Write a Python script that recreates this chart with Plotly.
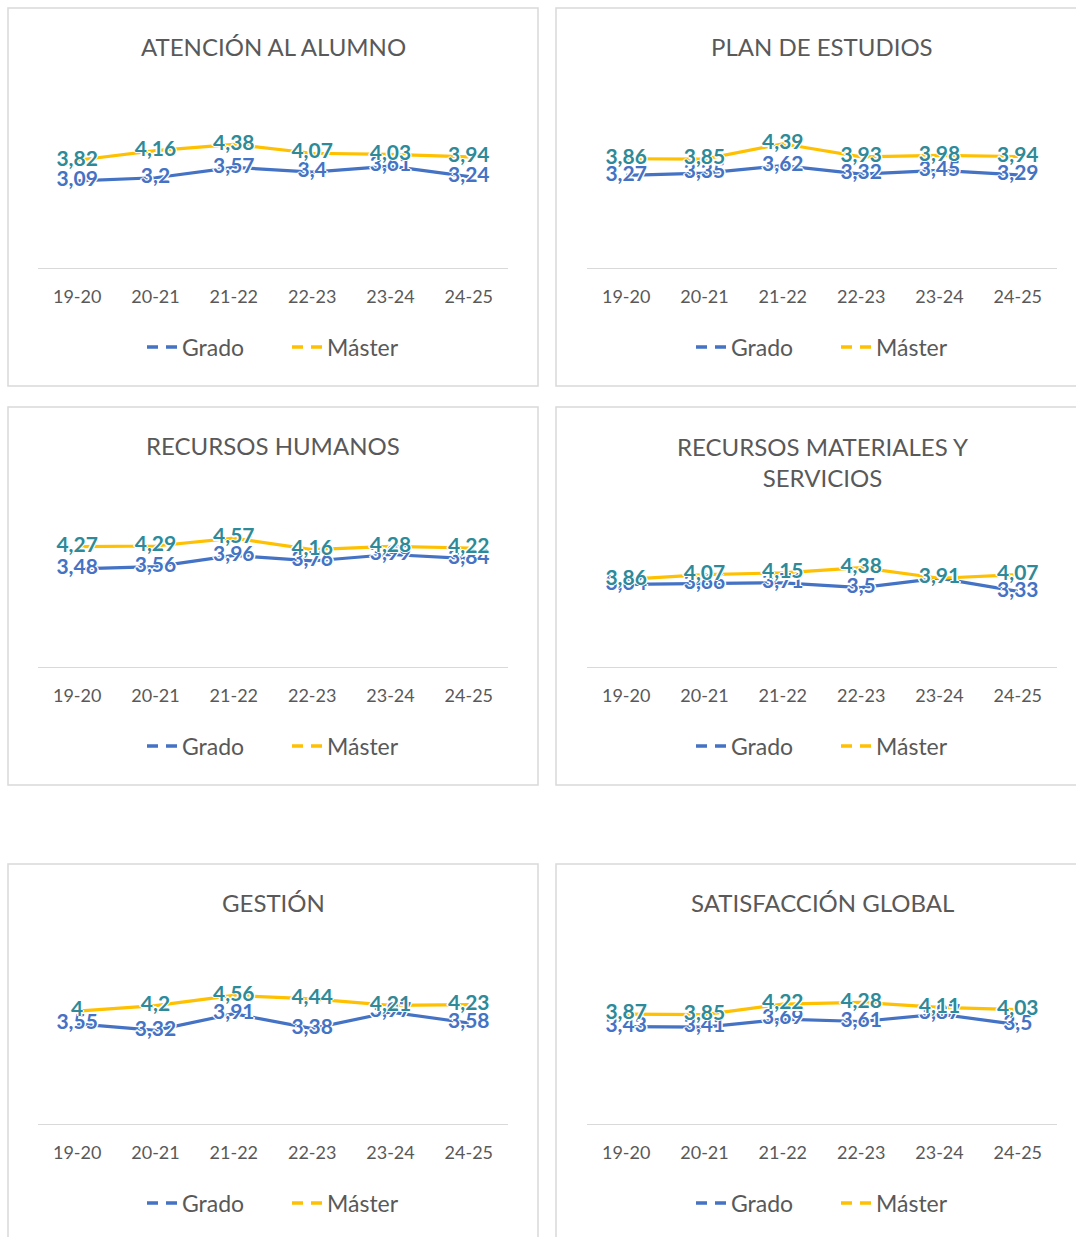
import plotly.graph_objects as go

# ---------------- data ----------------
categories = ["19-20", "20-21", "21-22", "22-23", "23-24", "24-25"]

titles = [
    "ATENCIÓN AL ALUMNO",
    "PLAN DE ESTUDIOS",
    "RECURSOS HUMANOS",
    "RECURSOS MATERIALES Y<br>SERVICIOS",
    "GESTIÓN",
    "SATISFACCIÓN GLOBAL",
]

grado_atencion = [3.09, 3.2, 3.57, 3.4, 3.61, 3.24]
master_atencion = [3.82, 4.16, 4.38, 4.07, 4.03, 3.94]

grado_plan = [3.27, 3.35, 3.62, 3.32, 3.45, 3.29]
master_plan = [3.86, 3.85, 4.39, 3.93, 3.98, 3.94]

grado_rrhh = [3.48, 3.56, 3.96, 3.76, 3.99, 3.84]
master_rrhh = [4.27, 4.29, 4.57, 4.16, 4.28, 4.22]

grado_materiales = [3.64, 3.66, 3.71, 3.5, 3.91, 3.33]
master_materiales = [3.86, 4.07, 4.15, 4.38, 3.91, 4.07]

grado_gestion = [3.55, 3.32, 3.91, 3.38, 3.97, 3.58]
master_gestion = [4, 4.2, 4.56, 4.44, 4.21, 4.23]

grado_global = [3.43, 3.41, 3.69, 3.61, 3.87, 3.5]
master_global = [3.87, 3.85, 4.22, 4.28, 4.11, 4.03]

series_names = ["Grado", "Máster"]

grado_series = [grado_atencion, grado_plan, grado_rrhh, grado_materiales, grado_gestion, grado_global]
master_series = [master_atencion, master_plan, master_rrhh, master_materiales, master_gestion, master_global]

# ---------------- styling / layout ----------------
W, H = 1076, 1237
FONT = "Lato, Calibri, 'Noto Sans', sans-serif"
BLUE = "#4472C4"
GOLD = "#FFC000"
TEAL = "#2E8A98"
GRAY = "#595959"
BORDER = "#D9D9D9"

col_box = [(8, 538), (556, 1095)]
row_box = [(8, 386), (407, 785), (864, 1260)]
col_plot = [(38, 508), (587, 1057)]
row_axis = [268, 667, 1124]
title_y = [46, 445, 902]
legend_y = [347, 746, 1203]
unit_px = [28.2, 28.3, 28.2, 22.7, 28.2, 28.4]

HALO = "white 1.5px 0px 0px, white -1.5px 0px 0px, white 0px 1.5px 0px, white 0px -1.5px 0px"
LABEL_SIZE = 21


def fmt(v):
    return f"{v:g}".replace(".", ",")


fig = go.Figure()
shapes = []
annotations = []
layout_axes = {}

for i in range(6):
    r, c = divmod(i, 2)
    n = i + 1
    xa = "x" if n == 1 else f"x{n}"
    ya = "y" if n == 1 else f"y{n}"
    xkey = "xaxis" if n == 1 else f"xaxis{n}"
    ykey = "yaxis" if n == 1 else f"yaxis{n}"
    lg = "legend" if n == 1 else f"legend{n}"

    px0, px1 = col_plot[c]
    axis_y = row_axis[r]
    top_y = axis_y - 5 * unit_px[i]

    layout_axes[xkey] = dict(
        domain=[px0 / W, px1 / W], anchor=ya, type="category",
        range=[-0.5, 5.5], showline=True, linecolor=BORDER, linewidth=1.3,
        showgrid=False, zeroline=False, ticks="", ticklabelstandoff=12,
        tickfont=dict(family=FONT, size=18, color=GRAY), fixedrange=True,
    )
    layout_axes[ykey] = dict(
        domain=[1 - axis_y / H, 1 - top_y / H], anchor=xa, range=[0, 5],
        visible=False, showgrid=False, zeroline=False, fixedrange=True,
    )

    g = grado_series[i]
    m = master_series[i]

    # lines
    for vals, col in ((g, BLUE), (m, GOLD)):
        fig.add_trace(go.Scatter(x=categories, y=vals, mode="lines", xaxis=xa, yaxis=ya,
                                 line=dict(color=col, width=3.2), showlegend=False,
                                 hoverinfo="skip"))
    # data labels (drawn above both lines)
    for vals, col in ((g, BLUE), (m, TEAL)):
        fig.add_trace(go.Scatter(x=categories, y=vals, mode="text", xaxis=xa, yaxis=ya,
                                 text=[fmt(v) for v in vals], textposition="middle center",
                                 textfont=dict(family=FONT, size=LABEL_SIZE, color=col,
                                               weight="bold", shadow=HALO),
                                 showlegend=False, hoverinfo="skip"))
    # legend entries
    for name, col in zip(series_names, [BLUE, GOLD]):
        fig.add_trace(go.Scatter(x=[None], y=[None], mode="lines", xaxis=xa, yaxis=ya,
                                 name=name, legend=lg,
                                 line=dict(color=col, width=3.5, dash="11px,8px")))

    bx0, bx1 = col_box[c]
    by0, by1 = row_box[r]
    shapes.append(dict(type="rect", xref="paper", yref="paper",
                       x0=bx0 / W, x1=bx1 / W, y0=1 - by1 / H, y1=1 - by0 / H,
                       line=dict(color=BORDER, width=1.5), fillcolor="rgba(0,0,0,0)",
                       layer="below"))

    cx = (px0 + px1) / 2 / W
    ty = title_y[r] + (17 if "<br>" in titles[i] else 0)
    annotations.append(dict(text=titles[i], x=cx, y=1 - ty / H, xref="paper", yref="paper",
                            xanchor="center", yanchor="middle", showarrow=False,
                            font=dict(family=FONT, size=24, color=GRAY)))

    layout_axes[lg] = dict(
        orientation="h", x=cx + 14 / W, y=1 - legend_y[r] / H, xanchor="center",
        yanchor="middle", xref="paper", yref="paper",
        font=dict(family=FONT, size=23, color=GRAY),
        bgcolor="rgba(0,0,0,0)", itemwidth=30, entrywidth=100,
    )

fig.update_layout(
    width=W, height=H, margin=dict(l=0, r=0, t=0, b=0),
    paper_bgcolor="white", plot_bgcolor="white",
    shapes=shapes, annotations=annotations, **layout_axes,
)

fig.write_html("out.html", config={"displayModeBar": False},
               post_script="document.body.style.margin='0px';document.body.style.padding='0px';")
